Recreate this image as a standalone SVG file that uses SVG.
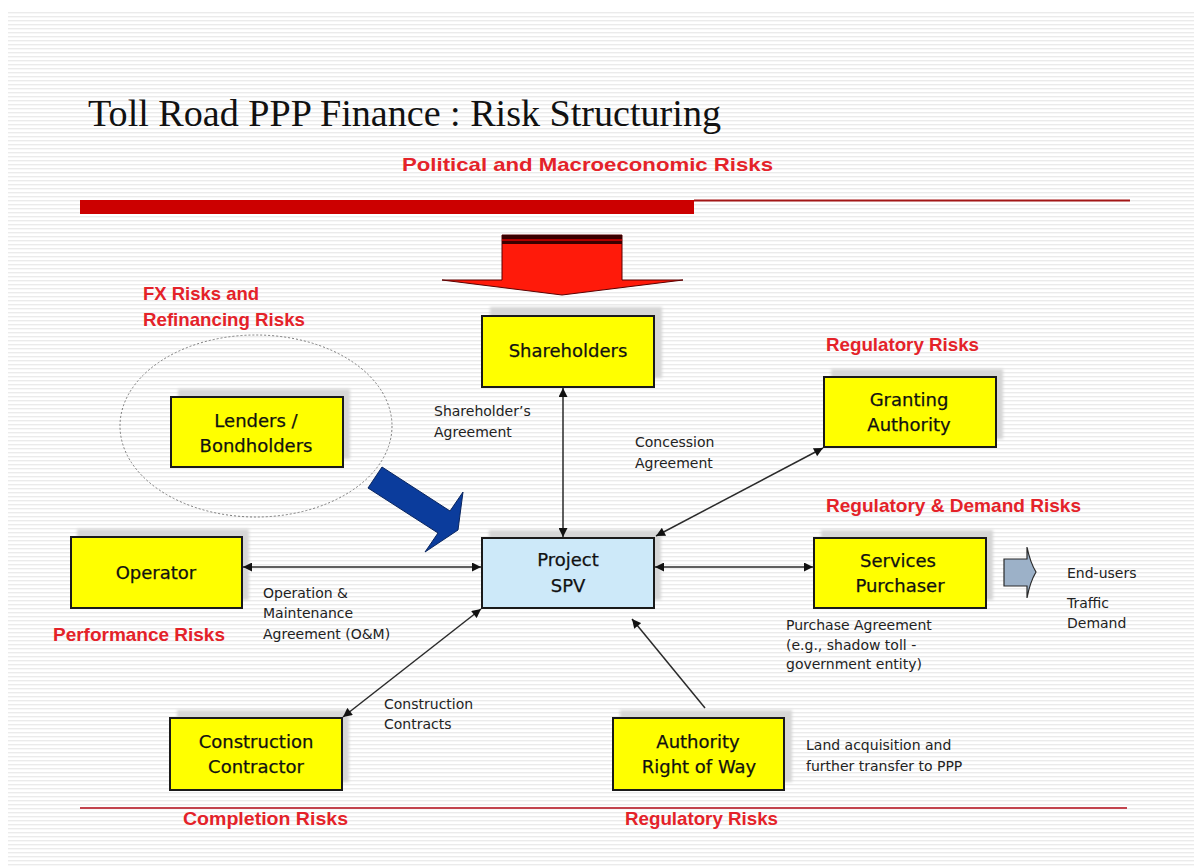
<svg xmlns="http://www.w3.org/2000/svg" width="1194" height="866" viewBox="0 0 1194 866">
<style>
.box{fill:#ffff00;stroke:#1a1a1a;stroke-width:2}
.spv{fill:#cde9f9;stroke:#1a1a1a;stroke-width:2}
.shadow{fill:#d6d6d6;filter:url(#blur)}
.lbl{font-family:"DejaVu Sans",Verdana,sans-serif;font-size:18px;fill:#111;stroke:#111;stroke-width:0.25;text-anchor:middle}
.sm{font-family:"DejaVu Sans",Verdana,sans-serif;font-size:14px;fill:#222}
.risk{font-family:"Liberation Sans",Arial,sans-serif;font-size:18.5px;font-weight:bold;fill:#e42229}
.con{stroke:#2a2a2a;stroke-width:1.5;fill:none}
</style>
<defs>
<pattern id="stripes" width="8" height="4" patternUnits="userSpaceOnUse">
<rect width="8" height="4" fill="#ffffff"/>
<rect y="0" width="8" height="1.4" fill="#ebebeb"/>
</pattern>
<filter id="blur" x="-10%" y="-20%" width="120%" height="140%"><feGaussianBlur stdDeviation="1.5"/></filter>
<marker id="ah" viewBox="0 0 10 10" refX="10" refY="5" markerWidth="11" markerHeight="9" markerUnits="userSpaceOnUse" orient="auto-start-reverse">
<path d="M0,0 L10,5 L0,10 z" fill="#111"/>
</marker>
</defs>
<rect width="1194" height="866" fill="#ffffff"/>
<rect x="8" y="10" width="1186" height="856" fill="url(#stripes)"/>

<text x="88" y="126" font-family="'Liberation Serif','Times New Roman',serif" font-size="38" fill="#111" textLength="633" lengthAdjust="spacingAndGlyphs">Toll Road PPP Finance : Risk Structuring</text>

<text class="risk" x="402" y="171" textLength="371" lengthAdjust="spacingAndGlyphs">Political and Macroeconomic Risks</text>
<rect x="80" y="200" width="614" height="14" fill="#cc0000"/>
<rect x="694" y="199.5" width="436" height="2" fill="#a31515"/>

<g id="political-arrow">
<path d="M502,235 H622 V280 H683 L562,295 L442,280 H502 Z" fill="#ff1a0a" stroke="#5a0000" stroke-width="1"/>
<rect x="502" y="235" width="120" height="9" fill="#3a0000"/>
<rect x="502" y="239" width="120" height="2" fill="#b00000"/>
</g>

<text class="risk" x="143" y="300" textLength="116" lengthAdjust="spacingAndGlyphs">FX Risks and</text>
<text class="risk" x="143" y="326" textLength="162" lengthAdjust="spacingAndGlyphs">Refinancing Risks</text>
<text class="risk" x="826" y="351" textLength="153" lengthAdjust="spacingAndGlyphs">Regulatory Risks</text>
<text class="risk" x="826" y="512" textLength="255" lengthAdjust="spacingAndGlyphs">Regulatory &amp; Demand Risks</text>
<text class="risk" x="53" y="641" textLength="172" lengthAdjust="spacingAndGlyphs">Performance Risks</text>
<text class="risk" x="183" y="825" textLength="165" lengthAdjust="spacingAndGlyphs">Completion  Risks</text>
<text class="risk" x="625" y="825" textLength="153" lengthAdjust="spacingAndGlyphs">Regulatory Risks</text>

<rect x="80" y="807" width="1047" height="2" fill="#c2444e"/>

<g id="lenders">
<ellipse cx="256" cy="426" rx="136" ry="91" fill="none" stroke="#7a7a7a" stroke-width="1" stroke-dasharray="2,2"/>
<rect class="shadow" x="178" y="389" width="172" height="70"/>
<rect class="box" x="171" y="397" width="172" height="70"/>
<text class="lbl" x="256" y="427">Lenders /</text>
<text class="lbl" x="256" y="452">Bondholders</text>
</g>

<g id="lenders-arrow">
<path d="M382,467 L450,511 L463,492 L458,530 L425,552 L438,533 L368,488 Z" fill="#0b3c9c" stroke="#08245e" stroke-width="1"/>
</g>

<g id="shareholders">
<rect class="shadow" x="490" y="307" width="172" height="71"/>
<rect class="box" x="482" y="316" width="172" height="71"/>
<text class="lbl" x="568" y="357">Shareholders</text>
</g>

<g id="granting">
<rect class="shadow" x="831" y="369" width="172" height="70"/>
<rect class="box" x="824" y="377" width="172" height="70"/>
<text class="lbl" x="909" y="406">Granting</text>
<text class="lbl" x="909" y="431">Authority</text>
</g>

<g id="spv">
<rect class="shadow" x="489" y="530" width="172" height="70"/>
<rect class="spv" x="482" y="538" width="172" height="70"/>
<text class="lbl" x="568" y="566">Project</text>
<text class="lbl" x="568" y="592">SPV</text>
</g>

<g id="operator">
<rect class="shadow" x="77" y="529" width="172" height="71"/>
<rect class="box" x="71" y="537" width="171" height="71"/>
<text class="lbl" x="156" y="579">Operator</text>
</g>

<g id="services">
<rect class="shadow" x="821" y="530" width="172" height="70"/>
<rect class="box" x="814" y="538" width="172" height="70"/>
<text class="lbl" x="898" y="567">Services</text>
<text class="lbl" x="900" y="592">Purchaser</text>
</g>

<g id="end-users-arrow">
<path d="M1004,559 H1027 V547 Q1030,562 1036,572 Q1030,582 1027,598 V586 H1004 Z" fill="#9cb1c8" stroke="#2a2a2a" stroke-width="1.2"/>
</g>

<g id="contractor">
<rect class="shadow" x="177" y="710" width="172" height="72"/>
<rect class="box" x="170" y="718" width="172" height="72"/>
<text class="lbl" x="256" y="748">Construction</text>
<text class="lbl" x="256" y="773">Contractor</text>
</g>

<g id="right-of-way">
<rect class="shadow" x="620" y="710" width="172" height="72"/>
<rect class="box" x="613" y="718" width="171" height="72"/>
<text class="lbl" x="698" y="748">Authority</text>
<text class="lbl" x="699" y="773">Right of Way</text>
</g>

<g id="connectors">
<line class="con" x1="563" y1="388" x2="563" y2="537" marker-start="url(#ah)" marker-end="url(#ah)"/>
<line class="con" x1="243" y1="567" x2="481" y2="567" marker-start="url(#ah)" marker-end="url(#ah)"/>
<line class="con" x1="655" y1="567" x2="813" y2="567" marker-start="url(#ah)" marker-end="url(#ah)"/>
<line class="con" x1="656" y1="536" x2="823" y2="448" marker-start="url(#ah)" marker-end="url(#ah)"/>
<line class="con" x1="481" y1="609" x2="343" y2="717" marker-start="url(#ah)" marker-end="url(#ah)"/>
<line class="con" x1="705" y1="708" x2="632" y2="619" marker-end="url(#ah)"/>
</g>

<g id="labels">
<text class="sm" x="434" y="416">Shareholder’s</text>
<text class="sm" x="434" y="437">Agreement</text>
<text class="sm" x="635" y="447">Concession</text>
<text class="sm" x="635" y="468">Agreement</text>
<text class="sm" x="263" y="598">Operation &amp;</text>
<text class="sm" x="263" y="618">Maintenance</text>
<text class="sm" x="263" y="639">Agreement (O&amp;M)</text>
<text class="sm" x="384" y="709">Construction</text>
<text class="sm" x="384" y="729">Contracts</text>
<text class="sm" x="786" y="630">Purchase Agreement</text>
<text class="sm" x="786" y="650">(e.g., shadow toll -</text>
<text class="sm" x="786" y="669">government entity)</text>
<text class="sm" x="1067" y="578">End-users</text>
<text class="sm" x="1067" y="608">Traffic</text>
<text class="sm" x="1067" y="628">Demand</text>
<text class="sm" x="806" y="750">Land acquisition and</text>
<text class="sm" x="806" y="771">further transfer to PPP</text>
</g>
</svg>
